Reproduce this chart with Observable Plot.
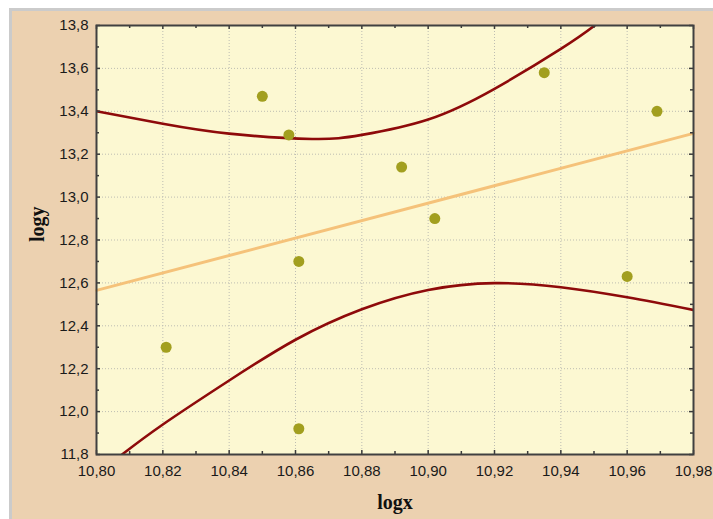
<!DOCTYPE html>
<html>
<head>
<meta charset="utf-8">
<script src="https://cdn.jsdelivr.net/npm/d3@7"></script>
<script src="https://cdn.jsdelivr.net/npm/@observablehq/plot@0.6"></script>
<style>
  html, body { margin: 0; padding: 0; background: #ffffff; }
  #wrap { position: relative; width: 713px; height: 519px; overflow: hidden; background: #ffffff; }
  #panel { position: absolute; left: 9px; top: 8px; right: 0; bottom: 0;
           background: #ECD1B0; border-left: 3px solid #CBCBCB; border-top: 3px solid #CBCBCB; }
  #chart { position: absolute; left: 0; top: 0; }
</style>
</head>
<body>
<div id="wrap"><div id="panel"></div><div id="chart"></div></div>
<script>
// Scatter points
const pointX = [10.821, 10.850, 10.858, 10.861, 10.861, 10.892, 10.902, 10.935, 10.960, 10.969];
const pointY = [12.30, 13.47, 13.29, 12.70, 11.92, 13.14, 12.90, 13.58, 12.63, 13.40];

// Regression line (endpoints)
const fitX = [10.80, 10.98];
const fitY = [12.565, 13.297];

// Upper confidence curve
const upperX = [10.80, 10.82, 10.84, 10.865, 10.88, 10.90, 10.92, 10.94, 10.9502, 10.96];
const upperY = [13.40, 13.342, 13.296, 13.271, 13.29, 13.362, 13.505, 13.691, 13.80, 13.92];

// Lower confidence curve
const lowerX = [10.8077, 10.82, 10.84, 10.86, 10.88, 10.90, 10.92, 10.94, 10.96, 10.98];
const lowerY = [11.80, 11.940, 12.145, 12.335, 12.477, 12.567, 12.599, 12.580, 12.533, 12.474];

// Ticks
const xMajor = [10.80, 10.82, 10.84, 10.86, 10.88, 10.90, 10.92, 10.94, 10.96, 10.98];
const xMinor = [10.81, 10.83, 10.85, 10.87, 10.89, 10.91, 10.93, 10.95, 10.97];
const yMajor = [11.8, 12.0, 12.2, 12.4, 12.6, 12.8, 13.0, 13.2, 13.4, 13.6, 13.8];
const yMinor = [11.9, 12.1, 12.3, 12.5, 12.7, 12.9, 13.1, 13.3, 13.5, 13.7];

const xTitle = "logx";
const yTitle = "logy";

const W = 713, H = 519;
const mL = 96, mR = 20, mT = 25, mB = 65;
const plotW = W - mL - mR, plotH = H - mT - mB;

const points = pointX.map((x, i) => ({x, y: pointY[i]}));
const fit = fitX.map((x, i) => ({x, y: fitY[i]}));
const upper = upperX.map((x, i) => ({x, y: upperY[i]}));
const lower = lowerX.map((x, i) => ({x, y: lowerY[i]}));

const fmtX = d => d.toFixed(2).replace(".", ",");
const fmtY = d => d.toFixed(1).replace(".", ",");

const tickColor = "#3a3a3a";
const gridStyle = {stroke: "#bdbdb2", strokeOpacity: 1, strokeWidth: 1, strokeDasharray: "1,2"};

const chart = Plot.plot({
  width: W,
  height: H,
  marginLeft: mL, marginRight: mR, marginTop: mT, marginBottom: mB,
  style: {background: "transparent", fontFamily: "'Liberation Sans', Arial, sans-serif", fontSize: "15px", color: "#1a1a1a", overflow: "visible"},
  x: {domain: [10.80, 10.98]},
  y: {domain: [11.8, 13.8]},
  marks: [
    Plot.frame({fill: "#FCF8D2", stroke: null}),
    Plot.gridX(xMajor, gridStyle),
    Plot.gridY(yMajor, gridStyle),
    Plot.line(fit, {x: "x", y: "y", stroke: "#F5C27A", strokeWidth: 3}),
    Plot.line(upper, {x: "x", y: "y", stroke: "#8E0A0A", strokeWidth: 2.6, curve: "natural", clip: true}),
    Plot.line(lower, {x: "x", y: "y", stroke: "#8E0A0A", strokeWidth: 2.6, curve: "natural", clip: true}),
    Plot.dot(points, {x: "x", y: "y", r: 5.5, fill: "#A29F1F", stroke: null}),
    // inward ticks
    Plot.tickX(xMajor, {x: d => d, insetTop: plotH - 4, stroke: tickColor, strokeWidth: 1.5}),
    Plot.tickX(xMinor, {x: d => d, insetTop: plotH - 3, stroke: tickColor, strokeWidth: 1.5}),
    Plot.tickX(xMajor, {x: d => d, insetBottom: plotH - 4, stroke: tickColor, strokeWidth: 1.5}),
    Plot.tickX(xMinor, {x: d => d, insetBottom: plotH - 3, stroke: tickColor, strokeWidth: 1.5}),
    Plot.tickY(yMajor, {y: d => d, insetRight: plotW - 4, stroke: tickColor, strokeWidth: 1.5}),
    Plot.tickY(yMinor, {y: d => d, insetRight: plotW - 3, stroke: tickColor, strokeWidth: 1.5}),
    Plot.tickY(yMajor, {y: d => d, insetLeft: plotW - 4, stroke: tickColor, strokeWidth: 1.5}),
    Plot.tickY(yMinor, {y: d => d, insetLeft: plotW - 3, stroke: tickColor, strokeWidth: 1.5}),
    Plot.frame({stroke: "#404040", strokeWidth: 2}),
    Plot.axisX(xMajor, {anchor: "bottom", tickSize: 0, tickPadding: 11, tickFormat: fmtX, label: null, fontSize: 15, fill: "#1a1a1a", style: {letterSpacing: "0.3px"}}),
    Plot.axisY(yMajor, {anchor: "left", tickSize: 0, tickPadding: 8, tickFormat: fmtY, label: null, fontSize: 15, fill: "#1a1a1a", style: {letterSpacing: "0.3px"}}),
    Plot.text([xTitle], {frameAnchor: "bottom", dy: 54, lineAnchor: "bottom", text: d => d, fontFamily: "'Liberation Serif', 'Times New Roman', serif", fontWeight: "bold", fontSize: 20, fill: "#111", style: {letterSpacing: "1.5px"}}),
    Plot.text([yTitle], {frameAnchor: "left", dx: -53, dy: 2, rotate: -90, lineAnchor: "bottom", text: d => d, fontFamily: "'Liberation Serif', 'Times New Roman', serif", fontWeight: "bold", fontSize: 20, fill: "#111", style: {letterSpacing: "1.5px"}})
  ]
});
document.getElementById("chart").appendChild(chart);
</script>
</body>
</html>
